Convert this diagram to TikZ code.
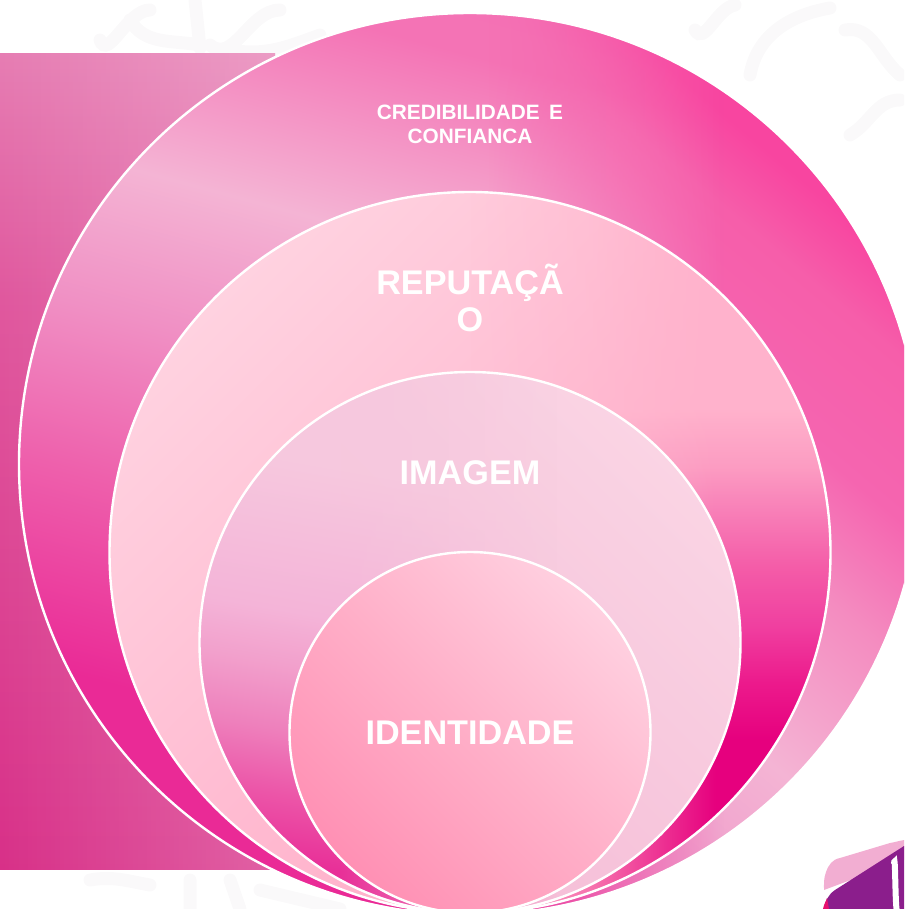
\documentclass[tikz,border=0pt]{standalone}
\usepackage{fontspec}
\setmainfont{Liberation Sans}
\usetikzlibrary{fadings,positioning}

\definecolor{leafgray}{HTML}{FAF9FA}
\definecolor{logopink}{HTML}{F2AED2}
\definecolor{logopurple}{HTML}{8B1E8C}
\definecolor{logored}{HTML}{E6106E}
\definecolor{hD83088}{HTML}{D83088}\definecolor{hE0589E}{HTML}{E0589E}\definecolor{hE67DB3}{HTML}{E67DB3}
\definecolor{hEA2A96}{HTML}{EA2A96}\definecolor{hEE60AC}{HTML}{EE60AC}\definecolor{hF090C4}{HTML}{F090C4}
\definecolor{hF4B4D4}{HTML}{F4B4D4}\definecolor{hF473B5}{HTML}{F473B5}\definecolor{hF56CB0}{HTML}{F56CB0}
\definecolor{hF0A0CC}{HTML}{F0A0CC}\definecolor{hF48CC0}{HTML}{F48CC0}\definecolor{hF565B0}{HTML}{F565B0}
\definecolor{hF65EAA}{HTML}{F65EAA}
\definecolor{hF845A0}{HTML}{F845A0}\definecolor{hFFA8C4}{HTML}{FFA8C4}\definecolor{hFFBCD2}{HTML}{FFBCD2}
\definecolor{hFFD2E0}{HTML}{FFD2E0}\definecolor{hE6007E}{HTML}{E6007E}\definecolor{hEC1A8C}{HTML}{EC1A8C}
\definecolor{hF040A0}{HTML}{F040A0}\definecolor{hF45CA8}{HTML}{F45CA8}\definecolor{hF880B8}{HTML}{F880B8}
\definecolor{hFC9CC2}{HTML}{FC9CC2}
\definecolor{hFFB2CC}{HTML}{FFB2CC}\definecolor{hF4B8D4}{HTML}{F4B8D4}\definecolor{hFAD4E4}{HTML}{FAD4E4}
\definecolor{hE83098}{HTML}{E83098}\definecolor{hEC55A8}{HTML}{EC55A8}\definecolor{hEE80BC}{HTML}{EE80BC}
\definecolor{hF2A0CC}{HTML}{F2A0CC}\definecolor{hF4B4D8}{HTML}{F4B4D8}\definecolor{hF6C8DE}{HTML}{F6C8DE}
\definecolor{hFF90B4}{HTML}{FF90B4}\definecolor{hFFAFC8}{HTML}{FFAFC8}\definecolor{hFFD0E0}{HTML}{FFD0E0}

\pgfdeclareverticalshading{bandside}{100bp}{color(0bp)=(hD83088);color(25bp)=(hD83088);color(60bp)=(hE0589E);color(75bp)=(hE67DB3);color(100bp)=(hE67DB3)}
\pgfdeclareverticalshading{bandcred}{100bp}{color(0bp)=(hEA2A96);color(33bp)=(hEA2A96);color(44bp)=(hEE60AC);color(53bp)=(hF090C4);color(61bp)=(hF4B4D4);color(72bp)=(hF473B5);color(100bp)=(hF56CB0)}
\pgfdeclareverticalshading{bandcredright}{100bp}{color(0bp)=(hF0A0CC);color(41bp)=(hF0A0CC);color(48bp)=(hF4B4D4);color(57bp)=(hF48CC0);color(63bp)=(hF565B0);color(70bp)=(hF65EAA);color(74bp)=(hF845A0);color(100bp)=(hF845A0)}
\pgfdeclareverticalshading{bandrep}{100bp}{color(0bp)=(hFFA8C4);color(25bp)=(hFFA8C4);color(50bp)=(hFFBCD2);color(75bp)=(hFFD2E0);color(100bp)=(hFFD2E0)}
\pgfdeclareverticalshading{bandrepright}{100bp}{color(0bp)=(hE6007E);color(37bp)=(hE6007E);color(41bp)=(hEC1A8C);color(45bp)=(hF040A0);color(49bp)=(hF45CA8);color(53bp)=(hF880B8);color(56bp)=(hFC9CC2);color(60bp)=(hFFB2CC);color(100bp)=(hFFB2CC)}
\pgfdeclareverticalshading{bandima}{100bp}{color(0bp)=(hF4B8D4);color(25bp)=(hF4B8D4);color(75bp)=(hFAD4E4);color(100bp)=(hFAD4E4)}
\pgfdeclareverticalshading{bandimaleft}{100bp}{color(0bp)=(hE83098);color(27bp)=(hE83098);color(33bp)=(hEC55A8);color(39bp)=(hEE80BC);color(45bp)=(hF2A0CC);color(50bp)=(hF4B4D8);color(64bp)=(hF6C8DE);color(100bp)=(hF6C8DE)}
\pgfdeclareverticalshading{bandide}{100bp}{color(0bp)=(hFF90B4);color(25bp)=(hFF90B4);color(50bp)=(hFFAFC8);color(75bp)=(hFFD0E0);color(100bp)=(hFFD0E0)}

\pgfdeclarehorizontalshading{rampcred}{100bp}{color(0bp)=(black);color(51bp)=(black);color(64bp)=(white);color(100bp)=(white)}
\pgfdeclarehorizontalshading{ramprep}{100bp}{color(0bp)=(black);color(50bp)=(black);color(58bp)=(black!70);color(67bp)=(white);color(100bp)=(white)}
\pgfdeclarehorizontalshading{rampima}{100bp}{color(0bp)=(white);color(38bp)=(white);color(58bp)=(black);color(100bp)=(black)}
\tikzfading[name=fadecred,shading=rampcred]
\tikzfading[name=faderep,shading=ramprep]
\tikzfading[name=fadeima,shading=rampima]
\tikzfading[name=fadeside,left color=transparent!100,right color=transparent!76]

\tikzset{
ringline/.style={draw=white,line width=2.4pt},
leaf/.style={draw=leafgray,line width=13pt,line cap=round},
bigword/.style={text=white,font=\bfseries\fontsize{34.2}{36.5}\selectfont,align=center,inner sep=0pt},
smallword/.style={text=white,font=\bfseries\fontsize{20.8}{23.5}\selectfont,align=center,inner sep=0pt}
}

\begin{document}
\begin{tikzpicture}[x=1pt,y=-1pt]
\useasboundingbox (0,0) rectangle (904,909);
\clip (0,0) rectangle (904,909);
\draw[leaf] (100,40) to[out=-70,in=180] (150,10) (200,45) to[out=170,in=-60] (130,20) (200,48)--(195,0) (210,45) to[out=-40,in=180] (280,10) (230,50) to[out=-10,in=200] (320,35);
\draw[leaf] (695,30) to[out=-60,in=190] (735,5) (750,75) to[out=80,in=190] (830,8) (845,30) to[out=10,in=140] (900,75) (900,100) to[out=180,in=30] (850,135);
\draw[leaf] (90,880) to[out=10,in=170] (150,885) (190,909)--(190,880) (230,880)--(240,909) (260,890)--(340,909);
\begin{scope}
\clip (0,54) rectangle (275,869);
\shade[shading=bandside] (-2,52) rectangle (277,871);
\fill[white,path fading=fadeside] (-2,52) rectangle (277,871);
\end{scope}
\shade[shading=bandcred,shading angle=-15] (470,464) circle (451);
\shade[shading=bandcredright,shading angle=-40,path fading=fadecred] (470,464) circle (451);
\draw[ringline] (470,464) circle (451);
\shade[shading=bandrep,shading angle=45] (470,552.5) circle (360.5);
\shade[shading=bandrepright,path fading=faderep] (470,552.5) circle (360.5);
\draw[ringline] (470,552.5) circle (360.5);
\shade[shading=bandima,shading angle=-45] (470,642.5) circle (270.5);
\shade[shading=bandimaleft,shading angle=-10,path fading=fadeima] (470,642.5) circle (270.5);
\draw[ringline] (470,642.5) circle (270.5);
\shade[shading=bandide,shading angle=-45] (470,732.5) circle (180.5);
\draw[ringline] (470,732.5) circle (180.5);
\fill[logopink] (824,890) to[out=90,in=250] (826,872) to[out=70,in=190] (840,858)--(890,843) to[out=10,in=190] (904,840)--(904,860)--cycle;
\fill[logopurple] (824,909) to[out=80,in=215] (835,890)--(904,846)--(904,909)--cycle;
\fill[logored] (823,909) to[out=80,in=250] (827,898)--(829,909)--cycle;
\draw[white,line width=6pt] (894,864) to[out=85,in=260] (898,909);
\node[smallword] (cred) at (470,124.5) {CREDIBILIDADE\hspace{0.45em}E\\CONFIANCA};
\node[bigword] (rep) at (470,298) {REPUTAÇÃ\\O};
\node[bigword] (ima) at (470,473) {IMAGEM};
\node[bigword] (ide) at (470,733) {IDENTIDADE};
\end{tikzpicture}
\end{document}
